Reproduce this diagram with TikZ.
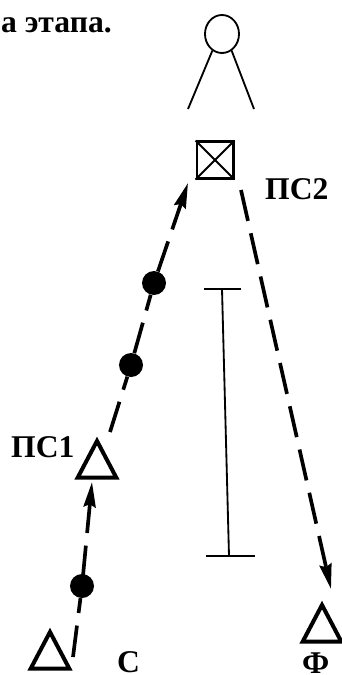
\documentclass[tikz,border=0pt]{standalone}
\usepackage{fontspec}
\setmainfont{Liberation Serif}
\usepackage{tikz}
\usetikzlibrary{arrows.meta,shapes.geometric,positioning}
\tikzset{
  lbl/.style={font=\fontsize{27}{27}\selectfont\bfseries,inner sep=0pt,anchor=base west},
  tri/.style={draw,line width=0.12cm,isosceles triangle,isosceles triangle stretches,shape border rotate=90,
    minimum width=1.16cm,minimum height=1.1cm,inner sep=0pt,outer sep=0pt,anchor=apex},
  dot/.style={circle,fill=black,minimum size=0.72cm,inner sep=0pt},
  dashline/.style={line width=0.11cm,dash pattern=on 0.95cm off 0.38cm},
  arrowline/.style={dashline,-{Stealth[length=0.75cm,width=0.36cm,inset=0.08cm]}},
  thinline/.style={line width=0.055cm}
}
\begin{document}
\begin{tikzpicture}[x=0.03cm,y=-0.03cm]
\useasboundingbox (0,0) rectangle (342,675);
\node[lbl,anchor=base east] (title) at (112,33) {а этапа.};
% figure on top
\node[draw,thinline,ellipse,minimum width=1.02cm,minimum height=1.14cm,inner sep=0pt] (head) at (222,34) {};
\coordinate (legL) at (188,109);
\coordinate (legR) at (254,109);
\draw[thinline] (head.240) -- (legL);
\draw[thinline] (head.300) -- (legR);
% stations
\node[draw,line width=0.07cm,minimum size=1.1cm,inner sep=0pt] (ps2) at (215,160) {};
\draw[thinline] (ps2.north west) -- (ps2.south east);
\draw[thinline] (ps2.south west) -- (ps2.north east);
\node[tri] (ps1) at (97,441) {};
\node[tri] (cc) at (50,632) {};
\node[tri] (ff) at (322,605) {};
\node[dot] (dotA) at (82,586) {};
\node[dot] (dotB) at (131,365) {};
\node[dot] (dotC) at (154,283) {};
% free ends of the routes
\coordinate (ccOut) at (73,657);
\coordinate (ps1In) at (92,482);
\coordinate (ps1Out) at (110,432);
\coordinate (ps2In) at (188,183);
\coordinate (ps2Out) at (241,190);
\coordinate (ffIn) at (331,589);
\draw[dashline] (ccOut) -- (dotA);
\draw[arrowline,shorten <=-0.1cm] (dotA) -- (ps1In);
\draw[dashline] (ps1Out) -- (dotB);
\draw[dashline] (dotB) -- (dotC);
\draw[arrowline] (dotC) -- (ps2In);
\draw[arrowline] (ps2Out) -- (ffIn);
% span bar
\coordinate (barTopL) at (204,289);
\coordinate (barTopR) at (241,289);
\coordinate (barTopM) at (222,289);
\coordinate (barBotL) at (206,556);
\coordinate (barBotR) at (255,556);
\coordinate (barBotM) at (229,556);
\draw[thinline] (barTopL) -- (barTopR);
\draw[thinline] (barBotL) -- (barBotR);
\draw[thinline] (barTopM) -- (barBotM);
% labels
\node[lbl] (lps2) at (265,199) {ПС2};
\node[lbl] (lps1) at (11,457) {ПС1};
\node[lbl] (lcc) at (117,672) {С};
\node[lbl] (lff) at (302,673) {Ф};
\end{tikzpicture}
\end{document}
